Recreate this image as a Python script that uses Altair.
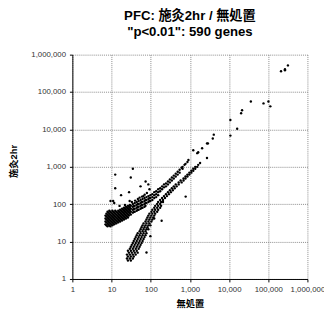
import altair as alt
import pandas as pd

# (無処置, 施灸2hr)
upper_band = [
    (7.0, 49.6), (7.0, 41.5), (7.0, 34.6), (7.0, 28.9),
    (7.4, 56.0), (7.4, 46.8), (7.4, 39.0), (7.4, 32.6), (7.4, 27.2),
    (7.9, 63.1), (7.9, 52.7), (7.9, 44.0), (7.9, 36.8), (7.9, 30.7), (7.9, 25.6),
    (8.3, 59.4), (8.3, 49.6), (8.3, 41.5), (8.3, 34.6), (8.3, 28.9),
    (8.8, 67.0), (8.8, 56.0), (8.8, 46.8), (8.8, 39.0), (8.8, 32.6), (8.8, 27.2),
    (9.3, 63.1), (9.3, 52.7), (9.3, 44.0), (9.3, 36.8), (9.3, 30.7), (9.3, 25.6),
    (9.9, 59.4), (9.9, 49.6), (9.9, 41.5), (9.9, 34.6), (9.9, 28.9),
    (10.5, 67.0), (10.5, 56.0), (10.5, 46.8), (10.5, 39.0), (10.5, 32.6), (10.5, 27.2),
    (11.1, 63.1), (11.1, 52.7), (11.1, 44.0), (11.1, 36.8), (11.1, 30.7),
    (11.7, 59.4), (11.7, 49.6), (11.7, 41.5), (11.7, 34.6), (11.7, 28.9),
    (12.4, 67.0), (12.4, 56.0), (12.4, 46.8), (12.4, 39.0), (12.4, 32.6),
    (13.2, 63.1), (13.2, 52.7), (13.2, 44.0), (13.2, 36.8), (13.2, 30.7),
    (14.0, 59.4), (14.0, 49.6), (14.0, 41.5), (14.0, 34.6),
    (14.8, 67.0), (14.8, 56.0), (14.8, 46.8), (14.8, 39.0), (14.8, 32.6),
    (15.6, 63.1), (15.6, 52.7), (15.6, 44.0), (15.6, 36.8),
    (16.6, 71.2), (16.6, 59.4), (16.6, 49.6), (16.6, 41.5), (16.6, 34.6),
    (17.5, 67.0), (17.5, 56.0), (17.5, 46.8), (17.5, 39.0),
    (18.6, 75.6), (18.6, 63.1), (18.6, 52.7), (18.6, 44.0), (18.6, 36.8),
    (19.7, 71.2), (19.7, 59.4), (19.7, 49.6), (19.7, 41.5),
    (20.8, 80.2), (20.8, 67.0), (20.8, 56.0), (20.8, 46.8), (20.8, 39.0),
    (22.0, 75.6), (22.0, 63.1), (22.0, 52.7), (22.0, 44.0),
    (23.3, 85.2), (23.3, 71.2), (23.3, 59.4), (23.3, 49.6), (23.3, 41.5),
    (24.7, 80.2), (24.7, 67.0), (24.7, 56.0), (24.7, 46.8),
    (26.2, 90.5), (26.2, 75.6), (26.2, 63.1), (26.2, 52.7), (26.2, 44.0),
    (27.7, 85.2), (27.7, 71.2), (27.7, 59.4), (27.7, 49.6),
    (29.3, 96.1), (29.3, 80.2), (29.3, 67.0), (29.3, 56.0),
    (31.1, 90.5), (31.1, 75.6), (31.1, 63.1), (31.1, 52.7),
    (34.9, 102), (34.9, 85.2), (34.9, 71.2), (34.9, 59.4),
    (36.9, 90.5), (36.9, 75.6), (36.9, 63.1),
    (39.1, 108), (39.1, 90.5), (39.1, 75.6), (39.1, 63.1),
    (43.9, 115), (43.9, 96.1), (43.9, 80.2), (43.9, 67.0),
    (46.5, 102), (46.5, 85.2), (46.5, 71.2),
    (49.2, 122), (49.2, 102), (49.2, 85.2), (49.2, 71.2),
    (55.2, 130), (55.2, 108), (55.2, 90.5), (55.2, 75.6),
    (58.5, 115), (58.5, 96.1), (58.5, 80.2),
    (61.9, 138), (61.9, 115), (61.9, 96.1), (61.9, 80.2),
    (69.4, 146), (69.4, 122), (69.4, 102), (69.4, 85.2),
    (73.5, 130), (73.5, 108), (73.5, 90.5),
    (77.9, 155), (77.9, 130), (77.9, 108),
    (87.3, 165), (87.3, 138), (87.3, 115),
    (92.5, 146), (92.5, 122),
    (98, 175), (98, 146), (98, 122),
    (110, 186), (110, 155), (110, 130),
    (123, 210), (123, 175), (123, 146),
    (138, 223), (138, 186), (138, 155),
    (155, 251), (155, 210), (155, 175),
    (174, 267), (174, 223),
    (195, 301), (195, 251),
    (218, 339), (218, 283),
    (245, 360), (245, 301),
    (275, 406), (275, 339),
    (308, 458), (308, 383),
    (346, 517), (346, 431),
    (388, 583), (388, 486),
    (435, 657), (435, 549),
    (488, 741), (488, 619),
    (547, 836), (547, 698),
    (614, 942), (650, 1000), (650, 887),
    (729, 1130), (772, 1200), (866, 1350), (917, 1520),
]

lower_band = [
    (26.2, 3.13), (31.1, 3.13),
    (24.7, 3.53), (29.3, 3.53), (34.9, 3.53),
    (26.2, 3.98), (31.1, 3.98), (36.9, 3.98),
    (24.7, 4.49), (29.3, 4.49), (34.9, 4.49), (41.4, 4.49),
    (27.7, 5.06), (32.9, 5.06), (39.1, 5.06), (46.5, 5.06),
    (26.2, 5.71), (31.1, 5.71), (36.9, 5.71), (43.9, 5.71),
    (29.3, 6.44), (34.9, 6.44), (41.4, 6.44), (49.2, 6.44),
    (31.1, 7.26), (36.9, 7.26), (43.9, 7.26), (52.1, 7.26),
    (32.9, 8.19), (39.1, 8.19), (46.5, 8.19), (55.2, 8.19),
    (34.9, 9.23), (41.4, 9.23), (49.2, 9.23), (58.5, 9.23),
    (36.9, 10.4), (43.9, 10.4), (52.1, 10.4), (61.9, 10.4),
    (39.1, 11.7), (46.5, 11.7), (55.2, 11.7), (65.6, 11.7),
    (41.4, 13.2), (49.2, 13.2), (58.5, 13.2), (69.4, 13.2),
    (43.9, 14.9), (52.1, 14.9), (61.9, 14.9), (73.5, 14.9),
    (46.5, 16.8), (55.2, 16.8), (65.6, 16.8), (77.9, 16.8),
    (52.1, 19.0), (61.9, 19.0), (73.5, 19.0),
    (55.2, 21.4), (65.6, 21.4), (77.9, 21.4), (87.3, 21.4),
    (58.5, 24.1), (69.4, 24.1), (82.5, 24.1),
    (61.9, 27.2), (73.5, 27.2), (87.3, 27.2), (98, 27.2),
    (65.6, 30.7), (77.9, 30.7), (92.5, 30.7),
    (73.5, 34.6), (87.3, 34.6), (104, 34.6),
    (77.9, 39.0), (92.5, 39.0), (110, 39.0),
    (82.5, 44.0), (98, 44.0), (116, 44.0),
    (87.3, 49.6), (104, 49.6), (123, 49.6),
    (92.5, 56.0), (110, 56.0), (130, 56.0),
    (104, 63.1), (123, 63.1), (146, 63.1),
    (110, 71.2), (130, 71.2), (155, 71.2),
    (123, 80.2), (146, 80.2), (174, 80.2),
    (130, 90.5), (155, 90.5), (184, 90.5),
    (146, 102), (174, 102),
    (155, 115), (184, 115), (206, 115),
    (174, 130), (206, 130),
    (195, 146), (231, 146),
    (218, 165), (259, 165),
    (245, 186), (291, 186),
    (275, 210), (326, 210),
    (308, 236), (366, 236),
    (346, 267), (410, 267),
    (388, 301), (460, 301),
    (435, 339), (517, 339),
    (517, 383), (614, 383),
    (580, 431), (688, 431),
    (688, 486), (772, 486),
    (772, 549), (866, 549),
    (866, 619), (970, 619),
    (970, 698), (1090, 698),
    (1090, 787), (1220, 787),
    (1220, 887), (1370, 887),
    (1370, 1000), (1540, 1000),
    (1630, 1130), (1820, 1270),
]

outliers_high = [
    (35, 887), (12.4, 619), (31, 517), (12.4, 267), (28, 210), (17.5, 175),
    (55, 301), (74, 406), (87, 339), (9.4, 122), (11, 122), (11.7, 108),
    (29, 122), (47, 138), (65, 165), (93, 251), (16, 90), (22, 95),
    (33, 115), (40, 125), (52, 150), (60, 160), (70, 180), (80, 200),
]

outliers_low = [
    (78, 5.1), (98, 14), (123, 41.5), (190, 36), (780, 160),
]

top_genes = [
    (1220, 2780), (1540, 2320), (1630, 2460), (2050, 3130), (2730, 4230),
    (2890, 4230), (3840, 5710), (4070, 7260), (2730, 1720),
    (10800, 17900), (10800, 6840), (16100, 10400), (20300, 27200),
    (21500, 32600), (36000, 56000), (75700, 49700), (101000, 56000),
    (113000, 41500), (212000, 361000), (267000, 383000), (267000, 406000),
    (318000, 517000),
]

ticks = [1, 10, 100, 1000, 10000, 100000, 1000000]

rows = []
for group in (upper_band, lower_band, outliers_high, outliers_low, top_genes):
    rows += [{"ctrl": x, "treat": y} for x, y in group]
df = pd.DataFrame(rows)

font = "Liberation Sans, Noto Sans CJK JP, sans-serif"

axis_common = dict(
    values=ticks, format=",.0f", grid=True, gridColor="#8c8c8c",
    gridDash=[1, 1], gridWidth=1, domainColor="black", domainWidth=1,
    tickColor="black", tickSize=3, labelFont=font, labelFontSize=8,
    labelColor="#333333", titleFont=font, titleFontSize=9.5,
    titleFontWeight="bold", titleColor="black", labelOverlap=False,
    labelFlush=False, labelPadding=4, titleBaseline="middle",
)

scale = alt.Scale(type="log", domain=[1, 1000000], nice=False)

chart = alt.Chart(df).mark_circle(size=6, color="black", opacity=1).encode(
    x=alt.X("ctrl:Q", scale=scale,
            axis=alt.Axis(title="無処置", titleY=25, **axis_common)),
    y=alt.Y("treat:Q", scale=scale,
            axis=alt.Axis(title="施灸2hr", titleX=-60, titleY=109, **axis_common)),
).properties(
    width=241, height=230,
    title=alt.Title(
        text=["PFC: 施灸2hr / 無処置", '"p<0.01": 590 genes'],
        font=font, fontSize=13.5, fontWeight="bold", lineHeight=16,
        offset=13, color="black", anchor="middle",
    ),
    autosize=alt.AutoSizeParams(type="none"),
    padding={"left": 66, "top": 44, "right": 17, "bottom": 30},
).configure_view(stroke=None)

chart.save("out.html", embed_options={"renderer": "svg", "actions": False})
